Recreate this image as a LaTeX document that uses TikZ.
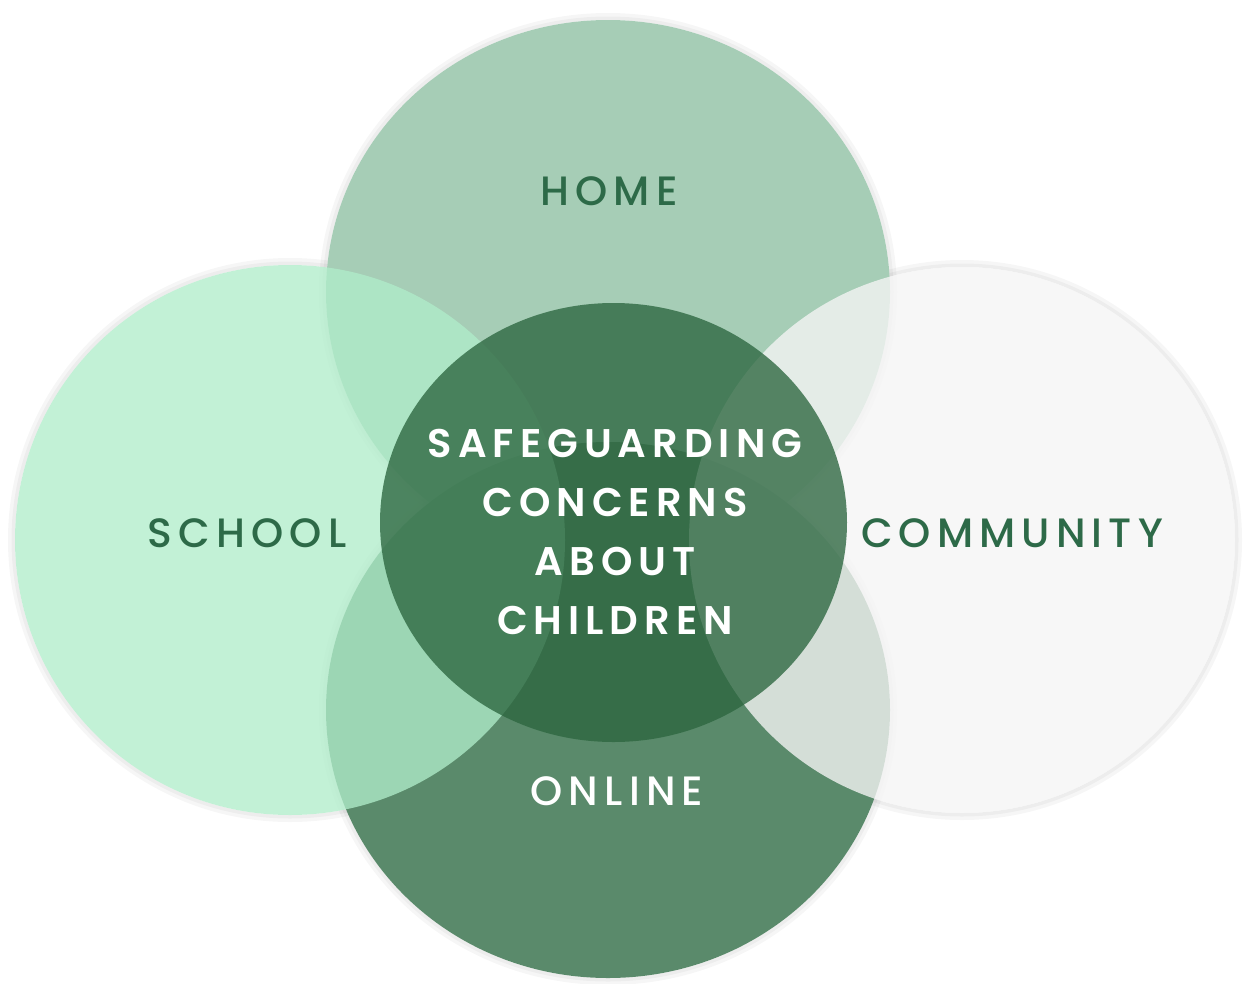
\documentclass[tikz,border=0pt]{standalone}
\usepackage{fontspec}
\setmainfont{Poppins}
\newfontfamily\tagfont{Poppins Medium}[LetterSpace=15]
\newfontfamily\corefont{Poppins SemiBold}[LetterSpace=15]
\usetikzlibrary{shapes.geometric}

\definecolor{homegreen}{HTML}{A6CDB6}
\definecolor{onlinegreen}{HTML}{5A8A6B}
\definecolor{schoolmint}{HTML}{B0EDCA}
\definecolor{communitygrey}{HTML}{F5F5F5}
\definecolor{coregreen}{HTML}{2C663F}
\definecolor{tagtext}{HTML}{2D6A48}

\tikzset{
  disc/.style={ellipse, inner sep=0pt, draw=none},
  halo/.style={fill=black, fill opacity=0.035, even odd rule},
  tag/.style={font=\tagfont\fontsize{41}{46}\selectfont, text=tagtext, inner sep=0pt},
  core/.style={font=\corefont\fontsize{40}{59}\selectfont, text=white, align=center, inner sep=0pt}
}

\begin{document}
\begin{tikzpicture}[x=1pt, y=-1pt]
    \useasboundingbox[fill=white] (0,0) rectangle (1248,983);
    % soft rims round the four outer discs
    \foreach \cx/\cy/\rx/\ry in {608/292/282/272, 608/710/282/268, 290/540/275/275, 962/540/273/273}
    {
      \fill[halo] (\cx,\cy) ellipse [x radius=\rx+7, y radius=\ry+7] (\cx,\cy) ellipse [x radius=\rx, y radius=\ry];
      \fill[halo] (\cx,\cy) ellipse [x radius=\rx+3.5, y radius=\ry+3.5] (\cx,\cy) ellipse [x radius=\rx, y radius=\ry];
    }
    % the four settings
    \node[disc, fill=homegreen, minimum width=564pt, minimum height=544pt] (home) at (608,292) {};
    \node[disc, fill=onlinegreen, minimum width=564pt, minimum height=536pt] (online) at (608,710) {};
    \node[disc, fill=schoolmint, fill opacity=0.77, minimum width=550pt, minimum height=550pt] (school) at (290,540) {};
    \node[disc, fill=communitygrey, fill opacity=0.79, minimum width=546pt, minimum height=546pt] (community) at (962,540) {};
    % the concern in the middle
    \node[disc, fill=coregreen, fill opacity=0.78, minimum width=467pt, minimum height=439pt] (concern) at (613.5,522.5) {};
    % labels
    \node[tag] (hometag) at (609,191) {HOME};
    \node[tag] (schooltag) at (247,533) {SCHOOL};
    \node[tag] (communitytag) at (1012,533) {COMMUNITY};
    \node[tag, text=white] (onlinetag) at (617,791) {ONLINE};
    \node[core] (concerntag) at (615,532) {SAFEGUARDING\\CONCERNS\\ABOUT\\CHILDREN};
\end{tikzpicture}
\end{document}
